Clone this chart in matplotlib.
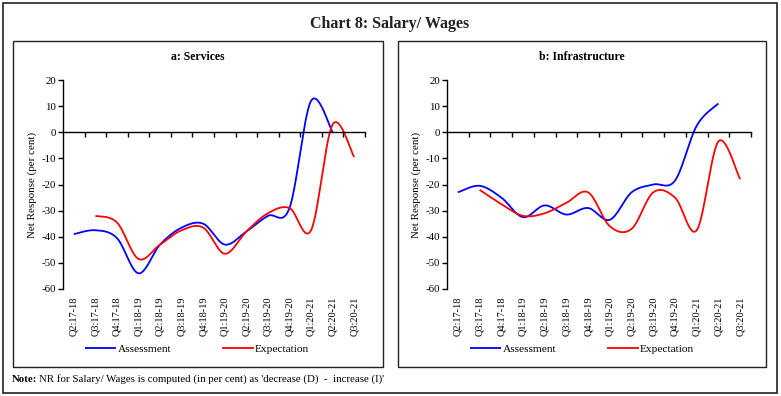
import numpy as np
import matplotlib
matplotlib.use("Agg")
import matplotlib.pyplot as plt
from matplotlib.patches import Rectangle

plt.rcParams['font.family'] = ['Liberation Serif', 'DejaVu Serif']

categories = ["Q2:17-18", "Q3:17-18", "Q4:17-18", "Q1:18-19", "Q2:18-19", "Q3:18-19",
              "Q4:18-19", "Q1:19-20", "Q2:19-20", "Q3:19-20", "Q4:19-20", "Q1:20-21",
              "Q2:20-21", "Q3:20-21"]

# Services
services_assessment = [-39, -37.5, -40.5, -54, -43, -36.5, -35, -43, -38, -32, -29, 12, 0, None]
services_expectation = [None, -32, -34.5, -48.5, -43, -37.5, -36.5, -46.5, -38, -31, -29, -37.5, 3, -9.5]
# Infrastructure
infra_assessment = [-23, -20.5, -25, -32.5, -28, -31.5, -29, -33.5, -23, -20, -18.5, 2.5, 11, None]
infra_expectation = [None, -22, -27.5, -32, -31, -27, -23, -36, -37, -23, -25, -37.5, -3.5, -18]

yticks = [20, 10, 0, -10, -20, -30, -40, -50, -60]

W, H = 781, 396
fig = plt.figure(figsize=(W / 100, H / 100), dpi=100)


def fx(px):
    return px / W


def fy(py):
    return 1 - py / H


def smooth(xs, ys, n=30):
    # Catmull-Rom style Bezier smoothing (like spreadsheet smoothed lines)
    pts = [(x, y) for x, y in zip(xs, ys) if y is not None]
    P = np.array(pts, dtype=float)
    m = len(P)
    out = []
    for i in range(m - 1):
        p0 = P[i - 1] if i > 0 else P[i]
        p1 = P[i]
        p2 = P[i + 1]
        p3 = P[i + 2] if i + 2 < m else P[i + 1]
        b1 = p1 + (p2 - p0) / 6.0
        b2 = p2 - (p3 - p1) / 6.0
        t = np.linspace(0, 1, n)[:, None]
        seg = ((1 - t) ** 3) * p1 + 3 * ((1 - t) ** 2) * t * b1 + 3 * (1 - t) * t ** 2 * b2 + t ** 3 * p2
        if i > 0:
            seg = seg[1:]
        out.append(seg)
    S = np.vstack(out)
    return S[:, 0], S[:, 1]


# Outer border
fig.patches.append(Rectangle((fx(2.5), fy(392.5)), fx(776.5 - 2.5), (392.5 - 3) / H,
                             transform=fig.transFigure, fill=False, lw=1.2, ec='#222222'))
# Panel borders
for (l, r) in [(13, 383), (398, 766)]:
    fig.patches.append(Rectangle((fx(l), fy(366.5)), fx(r - l), (366.5 - 40.5) / H,
                                 transform=fig.transFigure, fill=False, lw=1.0, ec='#222222'))

fig.text(fx(390), fy(24), "Chart 8: Salary/ Wages", ha='center', va='center',
         fontsize=11.5, fontweight='bold', color='#222222')

panels = [
    ("a: Services", 63, 365, 198, services_assessment, services_expectation, 85),
    ("b: Infrastructure", 447, 751, 582, infra_assessment, infra_expectation, 470),
]

x = np.arange(len(categories)) + 0.5

for title, l, r, tcx, ass, exp, legx in panels:
    top, bot = 80, 289
    ax = fig.add_axes([fx(l), fy(bot), fx(r - l), (bot - top) / H])
    ax.set_xlim(0, len(categories))
    ax.set_ylim(-60, 20)
    ax.patch.set_alpha(0)
    for s in ['top', 'right']:
        ax.spines[s].set_visible(False)
    ax.spines['bottom'].set_position(('data', 0))
    ax.spines['left'].set_linewidth(1.0)
    ax.spines['bottom'].set_linewidth(1.0)
    ax.set_xticks(np.arange(1, len(categories) + 1))
    ax.set_xticklabels([])
    ax.tick_params(axis='x', direction='out', length=3.5, width=1.0)
    ax.set_yticks(yticks)
    ax.set_yticklabels([str(v) for v in yticks], fontsize=7.8)
    ax.tick_params(axis='y', direction='out', length=3.5, width=1.0, pad=1.5)
    ax.set_ylabel("Net Response (per cent)", fontsize=7.9, labelpad=3.5)
    for xi, c in zip(x, categories):
        ax.text(xi, -63, c, rotation=90, ha='center', va='top', fontsize=7.5,
                transform=ax.transData)
    bx, by = smooth(x, ass)
    ex, ey = smooth(x, exp)
    la, = ax.plot(bx, by, color='#0000FF', lw=1.3, label='Assessment', solid_capstyle='butt')
    le, = ax.plot(ex, ey, color='#FF0000', lw=1.3, label='Expectation', solid_capstyle='butt')
    fig.text(fx(tcx), fy(57), title, ha='center', va='center', fontsize=8.5, fontweight='bold')
    fig.legend(handles=[la, le], loc='center left', bbox_to_anchor=(fx(legx), fy(349)),
               ncol=2, frameon=False, fontsize=8.2, handlelength=2.75, handletextpad=0.1,
               columnspacing=4.5, borderpad=0, borderaxespad=0)

t1 = fig.text(fx(12), fy(379), "Note:", ha='left', va='center', fontsize=7.8, fontweight='bold')
fig.canvas.draw()
bb = t1.get_window_extent(renderer=fig.canvas.get_renderer())
fig.text(bb.x1 / W + fx(2), fy(379),
         "NR for Salary/ Wages is computed (in per cent) as 'decrease (D)  -  increase (I)'",
         ha='left', va='center', fontsize=7.8)

fig.savefig("out.png", dpi=100)
